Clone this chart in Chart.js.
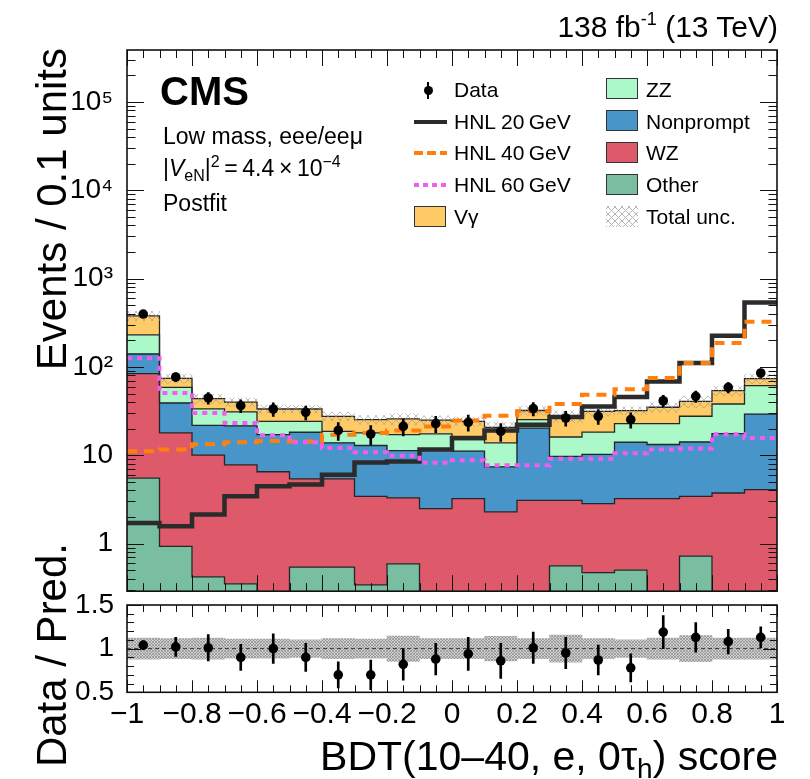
<!DOCTYPE html>
<html><head><meta charset="utf-8">
<script src="https://cdn.jsdelivr.net/npm/chart.js@4.4.1/dist/chart.umd.min.js"></script>
<style>
html,body{margin:0;padding:0;background:#fff;}
#wrap{position:relative;width:810px;height:779px;overflow:hidden;font-family:'Liberation Sans',Arial,Helvetica,sans-serif;color:#000;}
canvas{position:absolute;left:0;}
#c1{top:0;}
#c2{top:576px;}
.t{position:absolute;white-space:nowrap;line-height:1;}
.vt{transform-origin:0 0;transform:rotate(-90deg);width:400px;text-align:right;}
.sub{font-size:16px;position:relative;top:5px;}
.sup{font-size:16px;position:relative;top:-9px;}
.lg{font-size:21px;}
.box{position:absolute;width:32px;height:21px;border:1px solid #333;box-sizing:border-box;}
</style></head>
<body>
<div id="wrap">
<canvas id="c1" width="810" height="596"></canvas>
<canvas id="c2" width="810" height="203"></canvas>

<div class="t" style="right:32px;top:12px;font-size:30px">138 fb<span style="font-size:18px;position:relative;top:-12px">-1</span> (13 TeV)</div>
<div class="t" style="left:160px;top:71px;font-size:40px;font-weight:bold">CMS</div>
<div class="t" style="left:163px;top:124.5px;font-size:23px">Low mass, eee/eeμ</div>
<div class="t" style="left:163px;top:157px;font-size:23px">|<i>V</i><span class="sub">eN</span>|<span class="sup">2</span>&#8201;=&#8201;4.4&#8201;×&#8201;10<span class="sup">−4</span></div>
<div class="t" style="left:163px;top:192px;font-size:23px">Postfit</div>

<!-- legend -->
<div style="position:absolute;left:427px;top:82px;width:2px;height:17px;background:#000"></div>
<div style="position:absolute;left:423.5px;top:85.5px;width:9px;height:9px;border-radius:50%;background:#000"></div>
<div style="position:absolute;left:414px;top:119.7px;width:33px;height:4px;background:#2b2b2b"></div>
<div style="position:absolute;left:414px;top:151px;width:33px;height:4px;background:repeating-linear-gradient(90deg,#ff7f0e 0 9px,transparent 9px 13px)"></div>
<div style="position:absolute;left:414px;top:183px;width:33px;height:4px;background:repeating-linear-gradient(90deg,#f25cf2 0 5px,transparent 5px 9px)"></div>
<div class="box" style="left:414px;top:206px;background:#ffcb66"></div>
<div class="box" style="left:606px;top:78px;background:#abf8c8"></div>
<div class="box" style="left:606px;top:110px;background:#4795c9"></div>
<div class="box" style="left:606px;top:142px;background:#de5a6a"></div>
<div class="box" style="left:606px;top:174px;background:#79bea0"></div>
<div class="box" style="left:606px;top:206px;border:none;background-image:repeating-linear-gradient(45deg,#b5b5b5 0 1px,transparent 1px 5px),repeating-linear-gradient(-45deg,#b5b5b5 0 1px,transparent 1px 5px)"></div>
<div class="t lg" style="left:454px;top:78.9px">Data</div>
<div class="t lg" style="left:454px;top:110.5px">HNL 20&#8201;GeV</div>
<div class="t lg" style="left:454px;top:142.2px">HNL 40&#8201;GeV</div>
<div class="t lg" style="left:454px;top:173.9px">HNL 60&#8201;GeV</div>
<div class="t lg" style="left:454px;top:205.5px">Vγ</div>
<div class="t lg" style="left:646px;top:78.9px">ZZ</div>
<div class="t lg" style="left:646px;top:110.5px">Nonprompt</div>
<div class="t lg" style="left:646px;top:142.2px">WZ</div>
<div class="t lg" style="left:646px;top:173.9px">Other</div>
<div class="t lg" style="left:646px;top:205.5px">Total unc.</div>

<!-- axis titles -->
<div class="t vt" style="left:31px;top:448px;font-size:42px">Events / 0.1 units</div>
<div class="t vt" style="left:31px;top:943px;font-size:42px">Data / Pred.</div>
<div class="t" style="right:32px;top:736px;font-size:41px">BDT(10–40, e, 0τ<span style="font-size:28px;position:relative;top:8px">h</span>) score</div>
</div>

<script>
// ---------------- data ----------------
const binLow = [-1.0,-0.9,-0.8,-0.7,-0.6,-0.5,-0.4,-0.3,-0.2,-0.1,0.0,0.1,0.2,0.3,0.4,0.5,0.6,0.7,0.8,0.9];
const binWidth = 0.1;

// background contributions per bin (stacked bottom -> top)
const other     = [5.5,0.93,0.42,0.35,0,0.54,0.54,0.34,0.59,0,0,0,0,0.56,0.47,0.5,0,0.72,0,0];
const wz        = [78.3,17.0,9.6,7.45,6.5,4.86,4.86,3.09,2.7,2.49,3.23,2.28,3.09,2.53,2.36,2.73,3.23,2.71,3.74,4.08];
const nonprompt = [56.2,21.1,11.8,13.7,10.6,12.8,8.4,9.47,8.0,8.9,7.9,5.1,17.2,6.6,7.4,10.8,10.0,10.7,13.8,25.2];
const zz        = [91,19.6,11.6,9.4,7.1,6.0,4.8,5.0,5.8,6.1,3.9,6.4,5.0,6.4,8.0,8.8,9.6,13.5,20.5,32.0];
const vgamma    = [148,15.4,10.3,9.1,9.2,9.2,9.0,7.4,8.7,7.5,9.2,6.9,6.8,11.5,13.2,9.2,12.1,13.1,15.8,12.3];

const dataVals = [397,77,44.5,36.4,33.4,30.6,19.1,17.4,21.2,22.8,23.6,18.6,33.7,26.4,27.6,25.3,41.4,46.4,58.6,85.3];
const dataErr  = [19.9,8.8,6.7,6.0,5.8,5.5,4.4,4.2,4.6,4.8,4.9,4.3,5.8,5.1,5.3,5.0,6.4,6.8,7.7,9.2];

const hnl20 = [1.71,1.57,2.13,3.43,4.45,4.65,6.0,8.3,8.5,11.6,15.7,19,22.2,27.1,35.7,45.6,68.5,111,225,537];
const hnl40 = [11.1,11.6,13.3,14,14.5,14.3,17.1,17.9,19,21.2,24.7,28,31.4,38,48.4,56,74.8,111,187,324];
const hnl60 = [125,50.7,30,23.2,16.8,14,12.1,10.8,9.9,8.2,8.8,7.7,7.7,9.1,9.1,10.5,11.6,11.9,17.3,15.7];

const totUncRel = [0.12,0.115,0.12,0.11,0.11,0.10,0.115,0.11,0.145,0.115,0.115,0.14,0.115,0.155,0.115,0.10,0.12,0.15,0.12,0.12];

const ratioVals = [1.04,1.02,1.01,0.90,1.00,0.90,0.70,0.70,0.82,0.88,0.94,0.86,1.01,0.95,0.87,0.78,1.19,1.13,1.08,1.13];
const ratioErr  = [0.05,0.11,0.15,0.15,0.17,0.16,0.15,0.17,0.18,0.18,0.19,0.20,0.18,0.18,0.17,0.16,0.19,0.17,0.14,0.12];

const xTickValues = [-1,-0.8,-0.6,-0.4,-0.2,0,0.2,0.4,0.6,0.8,1];
const xTickLabels = ['−1','−0.8','−0.6','−0.4','−0.2','0','0.2','0.4','0.6','0.8','1'];
const yMainTickValues = [1,10,100,1000,10000,100000];
const yMainTickLabels = ['1','10','10²','10³','10⁴','10⁵'];
const yRatioTickValues = [0.5,1,1.5];
const yRatioTickLabels = ['0.5','1','1.5'];

// ---------------- helpers ----------------
const FONT = "'Liberation Sans', Arial, Helvetica, sans-serif";
Chart.defaults.font.family = FONT;
Chart.defaults.color = '#000';

const yMin = 0.289, yMax = 3.87e5;
const FLOOR = 1e-3;
const centers = binLow.map(b => +(b + binWidth/2).toFixed(3));
const edges = binLow.concat([+(binLow[binLow.length-1] + binWidth).toFixed(3)]);

function stepLine(vals, color, width, dash, order){
  return {type:'line', data: edges.map((e,i)=>({x:e, y: vals[Math.min(i, vals.length-1)]})),
    stepped:true, borderColor:color, borderWidth:width, borderDash:dash, pointRadius:0, fill:false, order, borderCapStyle:'butt'};
}
function makePattern(ctxTarget, size, bg, fg, lw){
  const c = document.createElement('canvas'); c.width = c.height = size;
  const g = c.getContext('2d');
  if (bg){ g.fillStyle = bg; g.fillRect(0,0,size,size); }
  g.strokeStyle = fg; g.lineWidth = lw;
  g.beginPath(); g.moveTo(0,0); g.lineTo(size,size); g.moveTo(size,0); g.lineTo(0,size); g.stroke();
  return ctxTarget.createPattern(c,'repeat');
}
function noPad(s){ s.paddingTop = 0; s.paddingBottom = 0; s.paddingLeft = 0; s.paddingRight = 0; }
function makeFrame(cfg){
  return {
    id:'rootFrame',
    afterDatasetsDraw(chart){
      const {ctx, chartArea:a} = chart;
      const xs = chart.scales.x, ys = chart.scales.y;
      ctx.save();
      ctx.strokeStyle = '#111'; ctx.lineWidth = 1;
      ctx.beginPath();
      cfg.xTicks.forEach(t=>{
        const px = Math.round(xs.getPixelForValue(t.v)) + 0.5;
        const L = t.major ? cfg.xMaj : cfg.xMin;
        ctx.moveTo(px, a.bottom); ctx.lineTo(px, a.bottom - L);
        ctx.moveTo(px, a.top); ctx.lineTo(px, a.top + L);
      });
      cfg.yTicks.forEach(t=>{
        const py = Math.round(ys.getPixelForValue(t.v)) + 0.5;
        const L = t.major ? cfg.yMaj : cfg.yMin;
        ctx.moveTo(a.left, py); ctx.lineTo(a.left + L, py);
        ctx.moveTo(a.right, py); ctx.lineTo(a.right - L, py);
      });
      ctx.stroke();
      ctx.lineWidth = 1.6;
      ctx.strokeRect(a.left, a.top, a.right - a.left, a.bottom - a.top);
      ctx.restore();
    }
  };
}
const xTicksAll = [];
for (let k = 0; k <= 40; k++) xTicksAll.push({v: +(-1 + 0.05*k).toFixed(3), major: k % 4 === 0});
const yMainTicksAll = [];
for (let e = -1; e <= 5; e++) for (let m = 1; m <= 9; m++){
  const v = m * Math.pow(10, e);
  if (v >= yMin && v <= yMax) yMainTicksAll.push({v, major: m === 1});
}
const yRatioTicksAll = [];
for (let k = 0; k <= 10; k++) yRatioTicksAll.push({v: +(0.5 + 0.1*k).toFixed(2), major: k % 5 === 0});

// ---------------- main panel ----------------
const ctx1 = document.getElementById('c1').getContext('2d');
const hatchMain = makePattern(ctx1, 8, null, 'rgba(150,150,150,0.85)', 0.7);

const comps = [
  {v: other, color:'#79bea0'},
  {v: wz, color:'#de5a6a'},
  {v: nonprompt, color:'#4795c9'},
  {v: zz, color:'#abf8c8'},
  {v: vgamma, color:'#ffcb66'}
];
let cum = binLow.map(()=>0);
const mainSets = [];
comps.forEach(c=>{
  const lo = cum.slice();
  cum = cum.map((s,i)=> s + c.v[i]);
  const hi = cum.slice();
  mainSets.push({type:'bar', data: centers.map((x,i)=>({x, y: c.v[i] > 0 ? [Math.max(lo[i], FLOOR), hi[i]] : null})),
    backgroundColor:c.color, borderWidth:0, order:20});
  mainSets.push(stepLine(hi.map(v=>Math.max(v, FLOOR)), '#262626', 1.3, [], 15));
});
const total = cum;
mainSets.push({type:'bar', data: centers.map((x,i)=>({x, y:[total[i]*(1-totUncRel[i]), total[i]*(1+totUncRel[i])]})),
  backgroundColor: hatchMain, borderWidth:0, order:12});
mainSets.push(stepLine(hnl20, '#2b2b2b', 4.5, [], 6));
mainSets.push(stepLine(hnl40, '#ff7f0e', 4, [10,7], 5));
mainSets.push(stepLine(hnl60, '#f25cf2', 4, [5,5], 4));
mainSets.push({type:'bar', data: centers.map((x,i)=>({x, y:[dataVals[i]-dataErr[i], dataVals[i]+dataErr[i]]})),
  backgroundColor:'#000', borderWidth:0, barThickness:2, order:3});
mainSets.push({type:'line', data: centers.map((x,i)=>({x, y:dataVals[i]})), showLine:false,
  pointRadius:4.8, pointBackgroundColor:'#000', pointBorderWidth:0, order:2});

new Chart(ctx1, {
  type:'bar',
  data:{datasets: mainSets},
  options:{
    responsive:false, animation:false, events:[],
    layout:{padding:{left:0, right:33, top:50, bottom:4}},
    plugins:{legend:{display:false}, tooltip:{enabled:false}},
    datasets:{bar:{barPercentage:1, categoryPercentage:1}},
    scales:{
      x:{type:'linear', min:-1, max:1, stacked:true, offset:false,
         grid:{display:false}, border:{display:false}, ticks:{display:false},
         afterBuildTicks: s=>{ s.ticks = xTickValues.map(v=>({value:v})); },
         afterFit: s=>{ s.height = 0; noPad(s); }},
      y:{type:'logarithmic', min:yMin, max:yMax,
         grid:{display:false}, border:{display:false},
         ticks:{autoSkip:false, padding:6, color:'#000', font:{size:28},
           callback:(v)=>{ const i = yMainTickValues.indexOf(v); return i >= 0 ? yMainTickLabels[i] : ''; }},
         afterBuildTicks: s=>{ s.ticks = yMainTickValues.map(v=>({value:v})); },
         afterFit: s=>{ s.width = 127; noPad(s); }}
    }
  },
  plugins:[makeFrame({xTicks:xTicksAll, yTicks:yMainTicksAll, xMaj:16, xMin:8, yMaj:17, yMin:8.5})]
});

// ---------------- ratio panel ----------------
const ctx2 = document.getElementById('c2').getContext('2d');
const hatchRatio = makePattern(ctx2, 3, '#cfcfcf', '#8d8d8d', 0.7);
const ratioSets = [
  {type:'bar', data: centers.map((x,i)=>({x, y:[1-totUncRel[i], 1+totUncRel[i]]})), backgroundColor:hatchRatio, borderWidth:0, order:10},
  {type:'line', data: [{x:edges[0], y:1},{x:edges[edges.length-1], y:1}], borderColor:'#333', borderWidth:1, borderDash:[4,3], pointRadius:0, order:8},
  {type:'bar', data: centers.map((x,i)=>({x, y:[ratioVals[i]-ratioErr[i], ratioVals[i]+ratioErr[i]]})), backgroundColor:'#000', borderWidth:0, barThickness:2, order:3},
  {type:'line', data: centers.map((x,i)=>({x, y:ratioVals[i]})), showLine:false, pointRadius:4.8, pointBackgroundColor:'#000', pointBorderWidth:0, order:2}
];
new Chart(ctx2, {
  type:'bar',
  data:{datasets: ratioSets},
  options:{
    responsive:false, animation:false, events:[],
    layout:{padding:{left:0, right:33, top:29, bottom:0}},
    plugins:{legend:{display:false}, tooltip:{enabled:false}},
    datasets:{bar:{barPercentage:1, categoryPercentage:1}},
    scales:{
      x:{type:'linear', min:-1, max:1, stacked:true, offset:false,
         grid:{display:false}, border:{display:false},
         ticks:{autoSkip:false, maxRotation:0, padding:-4, color:'#000', font:{size:30},
           callback:(v)=>{ const i = xTickValues.findIndex(t=>Math.abs(t-v)<1e-9); return i >= 0 ? xTickLabels[i] : ''; }},
         afterBuildTicks: s=>{ s.ticks = xTickValues.map(v=>({value:v})); },
         afterFit: s=>{ s.height = 86.7; noPad(s); }},
      y:{type:'linear', min:0.5, max:1.5,
         grid:{display:false}, border:{display:false},
         ticks:{autoSkip:false, padding:5, color:'#000', font:{size:28},
           callback:(v)=>{ const i = yRatioTickValues.findIndex(t=>Math.abs(t-v)<1e-9); return i >= 0 ? yRatioTickLabels[i] : ''; }},
         afterBuildTicks: s=>{ s.ticks = yRatioTickValues.map(v=>({value:v})); },
         afterFit: s=>{ s.width = 127; noPad(s); }}
    }
  },
  plugins:[makeFrame({xTicks:xTicksAll, yTicks:yRatioTicksAll, xMaj:12, xMin:7, yMaj:14, yMin:7})]
});
</script>
</body></html>
